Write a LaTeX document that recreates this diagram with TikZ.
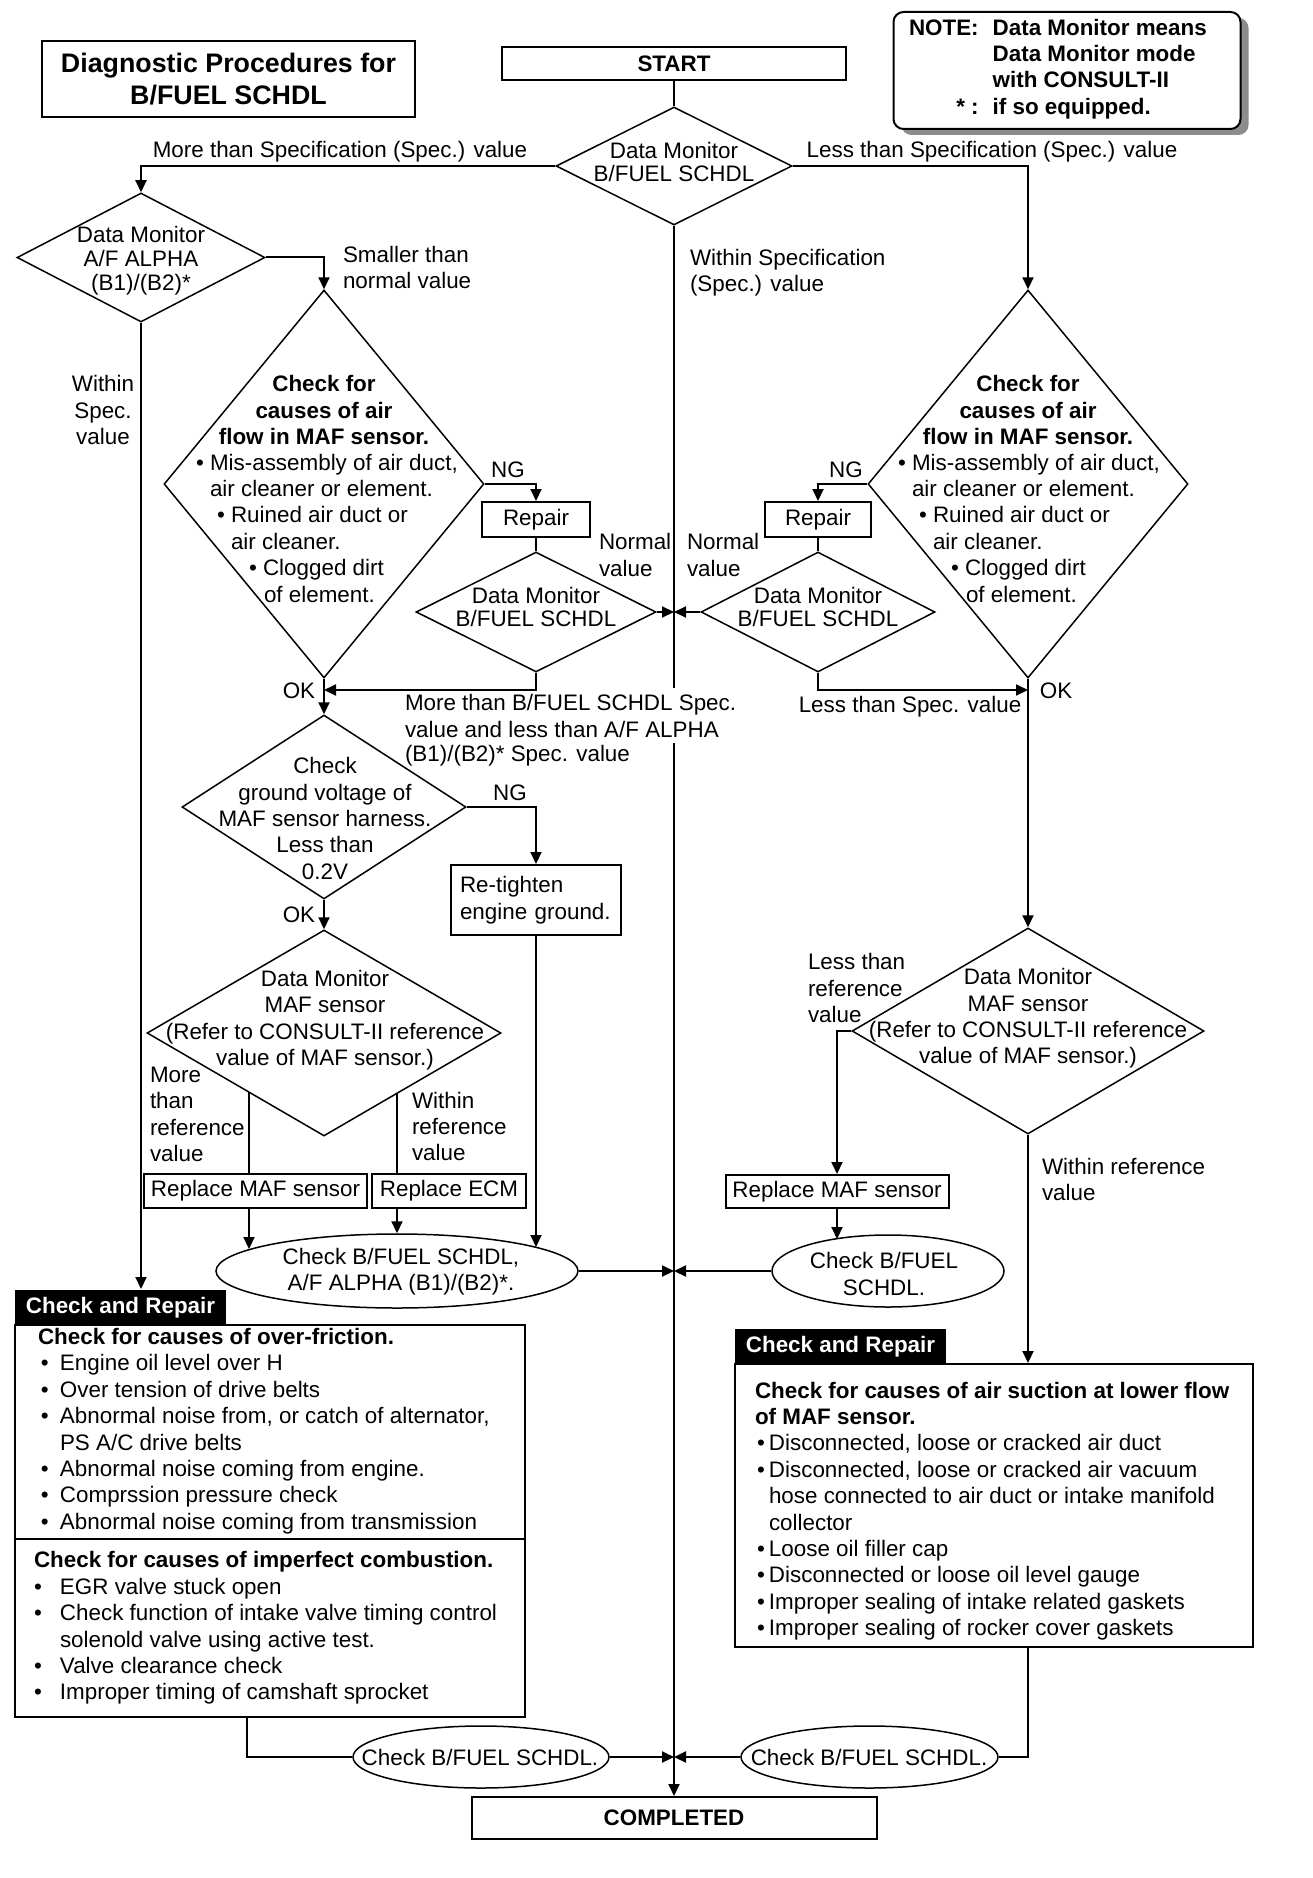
\documentclass[tikz,border=0pt]{standalone}
\usepackage{fontspec}
\setmainfont{Liberation Sans}
\usetikzlibrary{calc}
\usetikzlibrary{arrows.meta}
\usetikzlibrary{shapes.geometric}
\usetikzlibrary{shadows}
\newcommand{\flowfont}{\fontsize{11.2}{13.2}\selectfont}
\newcommand{\tightfont}{\fontsize{11.2}{11.4}\selectfont}
\newcommand{\midfont}{\fontsize{11.2}{12}\selectfont}
\newcommand{\titlefont}{\fontsize{13.4}{16}\selectfont\bfseries}
\newcommand{\blt}[1]{\makebox[#1][l]{\textbullet}}
\tikzset{
	every path/.style={line width=1pt},
	txt/.style={
		inner sep=0pt,
	},
	dia/.style={
		draw,
		diamond,
		inner sep=0pt,
		line width=0.75pt,
	},
	box/.style={
		draw,
		rectangle,
		inner sep=0pt,
	},
	oval/.style={
		draw,
		ellipse,
		inner sep=0pt,
		line width=0.75pt,
	},
	tab/.style={
		fill=black,
		text=white,
		inner sep=0pt,
		font=\flowfont\bfseries,
	},
	flow/.style={
		-{Triangle[length=6pt,width=5.5pt]}
	},
}

\begin{document}
\begin{tikzpicture}[x=0.5pt,y=-0.5pt,font=\flowfont]
		\fill[white] (0,0) rectangle (1312,1878);
		\useasboundingbox (0,0) rectangle (1312,1878);

		% header
		\node[box,line width=1.2pt,minimum width=186.5pt,minimum height=38pt,font=\titlefont,align=center] (title) at (228.5,79) {Diagnostic Procedures for\\B/FUEL SCHDL};
		\node[box,minimum width=172pt,minimum height=16.5pt,font=\flowfont\bfseries] (start) at (674,63.5) {START};
		\node[box,rounded corners=5pt,fill=white,drop shadow={shadow xshift=4pt,shadow yshift=-3pt,fill=black!45,opacity=1},minimum width=173.5pt,minimum height=58.5pt] (note) at (1067,70.5) {};
		\node[txt,anchor=west,font=\flowfont\bfseries] (notetxt) at (908,69.5) {\begin{tabular}{@{}r@{\hspace{7pt}}l@{}}NOTE: & Data Monitor means\\ & Data Monitor mode\\ & with CONSULT-II\\ {*} : & if so equipped.\end{tabular}};

		% first check
		\node[dia,minimum width=118pt,minimum height=59pt] (dmB) at (674,166) {};
		\node[txt,align=center,font=\tightfont] (dmBt) at (674,162) {Data Monitor\\B/FUEL SCHDL};

		% left side
		\node[dia,minimum width=124pt,minimum height=64.5pt] (dmA) at (141,257.5) {};
		\node[txt,align=center,font=\midfont] (dmAt) at (141,261) {Data Monitor\\A/F ALPHA\\(B1)/(B2)*};

		\node[dia,minimum width=160pt,minimum height=194pt] (chkL) at (324,484) {};
		\node[txt,align=center,font=\flowfont\bfseries] (chkLh) at (324,410) {Check for\\causes of air\\flow in MAF sensor.};
		\node[txt,align=left,anchor=west] (chkLb) at (195,528) {\textbullet\ Mis-assembly of air duct,\\\hspace*{7pt}air cleaner or element.\\\hspace*{10.5pt}\textbullet\ Ruined air duct or\\\hspace*{17.5pt}air cleaner.\\\hspace*{26.5pt}\textbullet\ Clogged dirt\\\hspace*{34pt}of element.};

		\node[box,minimum width=54pt,minimum height=17.5pt] (repL) at (536,519.5) {Repair};
		\node[dia,minimum width=120pt,minimum height=60pt] (dmBL) at (536,612) {};
		\node[txt,align=center,font=\tightfont] (dmBLt) at (536,607) {Data Monitor\\B/FUEL SCHDL};

		\node[dia,minimum width=142pt,minimum height=92pt] (grd) at (324,807) {};
		\node[txt,align=center] (grdt) at (325,818.5) {Check\\ground voltage of\\MAF sensor harness.\\Less than\\0.2V};
		\node[box,text width=76pt,inner xsep=4.5pt,inner ysep=0pt,align=left,minimum height=35pt] (ret) at (536,900) {Re-tighten\\engine ground.};

		\node[dia,minimum width=177pt,minimum height=103pt] (mafL) at (324,1033) {};
		\node[txt,align=center] (mafLt) at (325,1020) {Data Monitor\\MAF sensor\\(Refer to CONSULT-II reference\\value of MAF sensor.)};
		\node[box,minimum width=111.5pt,minimum height=17pt] (rmL) at (255.5,1191) {Replace MAF sensor};
		\node[box,minimum width=77pt,minimum height=17pt] (rmE) at (449,1191) {Replace ECM};

		\node[oval,minimum width=181pt,minimum height=37pt] (ckL) at (397,1271) {};
		\node[txt,align=center] (ckLt) at (401,1271.5) {Check B/FUEL SCHDL,\\A/F ALPHA (B1)/(B2)*.};

		\node[tab,minimum width=105.5pt,minimum height=17.5pt] (tabL) at (120.5,1307.5) {Check and Repair};
		\node[box,minimum width=255pt,minimum height=196pt] (crL) at (270,1521) {};
		\node[txt,align=left,anchor=west] (crLa) at (37,1431) {\textbf{Check for causes of over-friction.}\\
			\hspace*{1.5pt}\blt{9.5pt}Engine oil level over H\\
			\hspace*{1.5pt}\blt{9.5pt}Over tension of drive belts\\
			\hspace*{1.5pt}\blt{9.5pt}Abnormal noise from, or catch of alternator,\\
			\hspace*{11pt}PS A/C drive belts\\
			\hspace*{1.5pt}\blt{9.5pt}Abnormal noise coming from engine.\\
			\hspace*{1.5pt}\blt{9.5pt}Comprssion pressure check\\
			\hspace*{1.5pt}\blt{9.5pt}Abnormal noise coming from transmission};
		\node[txt,align=left,anchor=west] (crLb) at (33,1628) {\textbf{Check for causes of imperfect combustion.}\\
			\blt{13pt}EGR valve stuck open\\
			\blt{13pt}Check function of intake valve timing control\\
			\hspace*{13pt}solenold valve using active test.\\
			\blt{13pt}Valve clearance check\\
			\blt{13pt}Improper timing of camshaft sprocket};

		% right side
		\node[dia,minimum width=160pt,minimum height=194pt] (chkR) at (1028,484) {};
		\node[txt,align=center,font=\flowfont\bfseries] (chkRh) at (1028,410) {Check for\\causes of air\\flow in MAF sensor.};
		\node[txt,align=left,anchor=west] (chkRb) at (897,528) {\textbullet\ Mis-assembly of air duct,\\\hspace*{7pt}air cleaner or element.\\\hspace*{10.5pt}\textbullet\ Ruined air duct or\\\hspace*{17.5pt}air cleaner.\\\hspace*{26.5pt}\textbullet\ Clogged dirt\\\hspace*{34pt}of element.};

		\node[box,minimum width=53pt,minimum height=17.5pt] (repR) at (818,519.5) {Repair};
		\node[dia,minimum width=117pt,minimum height=60pt] (dmBR) at (818,612) {};
		\node[txt,align=center,font=\tightfont] (dmBRt) at (818,607) {Data Monitor\\B/FUEL SCHDL};

		\node[dia,minimum width=176pt,minimum height=103pt] (mafR) at (1028,1031) {};
		\node[txt,align=center] (mafRt) at (1028,1018.5) {Data Monitor\\MAF sensor\\(Refer to CONSULT-II reference\\value of MAF sensor.)};
		\node[box,minimum width=111.5pt,minimum height=16.5pt] (rmR) at (837,1191.5) {Replace MAF sensor};
		\node[oval,minimum width=116pt,minimum height=36pt] (ckR) at (888,1271) {};
		\node[txt,align=center] (ckRt) at (884,1274) {Check B/FUEL\\SCHDL.};

		\node[tab,minimum width=105.5pt,minimum height=17.5pt] (tabR) at (840.5,1346.5) {Check and Repair};
		\node[box,minimum width=259pt,minimum height=141.5pt] (crR) at (994,1505.5) {};
		\node[txt,align=left,anchor=west] (crRa) at (754,1511) {\textbf{Check for causes of air suction at lower flow}\\
			\textbf{of MAF sensor.}\\
			\hspace*{1pt}\blt{6pt}Disconnected, loose or cracked air duct\\
			\hspace*{1pt}\blt{6pt}Disconnected, loose or cracked air vacuum\\
			\hspace*{7pt}hose connected to air duct or intake manifold\\
			\hspace*{7pt}collector\\
			\hspace*{1pt}\blt{6pt}Loose oil filler cap\\
			\hspace*{1pt}\blt{6pt}Disconnected or loose oil level gauge\\
			\hspace*{1pt}\blt{6pt}Improper sealing of intake related gaskets\\
			\hspace*{1pt}\blt{6pt}Improper sealing of rocker cover gaskets};

		% bottom
		\node[oval,minimum width=128pt,minimum height=31pt] (ckBL) at (481,1757) {};
		\node[txt] (ckBLt) at (480,1757) {Check B/FUEL SCHDL.};
		\node[oval,minimum width=128.5pt,minimum height=31pt] (ckBR) at (869.5,1757) {};
		\node[txt] (ckBRt) at (869,1757) {Check B/FUEL SCHDL.};
		\node[box,minimum width=202.5pt,minimum height=21pt,font=\flowfont\bfseries] (done) at (674,1818) {COMPLETED};

		\coordinate (jB) at (674,612);
		\coordinate (jC) at (674,1271);
		\coordinate (jD) at (674,1757);
		\coordinate (gapT) at (674,688);
		\coordinate (gapB) at (674,743);
		\coordinate (okL) at (324,690);
		\coordinate (okR) at (1028,690);
		\coordinate (inL) at (249,1249);
		\coordinate (inG) at (536,1247);
		\coordinate (inRR) at (837,1239);

		% main line, broken by the label
		\draw (start.south) -- (dmB.north);
		\draw (dmB.south) -- (gapT);
		\draw[flow] (gapB) -- (done.north);

		% connectors left
		\draw[flow] (dmB.west) -| (dmA.north);
		\draw[flow] (dmA.east) -| (chkL.north);
		\draw[flow] (dmA.south) -- (dmA.south |- tabL.north);
		\draw[flow] (chkL.east) -| (repL.north);
		\draw (repL.south) -- (dmBL.north);
		\draw[flow] (dmBL.east) -- (jB);
		\draw[flow] (dmBL.south) |- (okL);
		\draw[flow] (chkL.south) -- (grd.north);
		\draw[flow] (grd.east) -| (ret.north);
		\draw[flow] (grd.south) -- (mafL.north);
		\draw (inL |- mafL.218.4) -- (inL |- rmL.north);
		\draw[flow] (inL |- rmL.south) -- (inL);
		\draw (ckL.north |- mafL.320.4) -- (ckL.north |- rmE.north);
		\draw[flow] (ckL.north |- rmE.south) -- (ckL.north);
		\draw[flow] (ret.south) -- (inG);
		\draw[flow] (ckL.east) -- (jC);
		\draw ($(crL.north west)!0.546!(crL.south west)$) -- ($(crL.north east)!0.546!(crL.south east)$);
		\draw ($(crL.south west)!0.456!(crL.south east)$) |- (ckBL.west);
		\draw[flow] (ckBL.east) -- (jD);

		% connectors right
		\draw[flow] (dmB.east) -| (chkR.north);
		\draw[flow] (chkR.west) -| (repR.north);
		\draw (repR.south) -- (dmBR.north);
		\draw[flow] (dmBR.west) -- (jB);
		\draw[flow] (dmBR.south) |- (okR);
		\draw[flow] (chkR.south) -- (mafR.north);
		\draw[flow] (mafR.west) -| (rmR.north);
		\draw[flow] (rmR.south) -- (inRR);
		\draw[flow] (ckR.west) -- (jC);
		\draw[flow] (mafR.south) -- (mafR.south |- crR.north);
		\draw (mafR.south |- crR.south) |- (ckBR.east);
		\draw[flow] (ckBR.west) -- (jD);

		% labels
		\node[txt] (lblMore) at (340,152) {More than Specification (Spec.) value};
		\node[txt] (lblLess) at (992,152) {Less than Specification (Spec.) value};
		\node[txt,align=left,anchor=west] (lblWithin) at (689,272.5) {Within Specification\\(Spec.) value};
		\node[txt,align=left,anchor=west] (lblSmall) at (342,267.5) {Smaller than\\normal value};
		\node[txt,align=center] (lblWithinSpec) at (103,410) {Within\\Spec.\\value};
		\node[txt] (ngL) at (508,470) {NG};
		\node[txt] (ngR) at (846,470) {NG};
		\node[txt,align=left,anchor=west] (nvL) at (598,555) {Normal\\value};
		\node[txt,align=left,anchor=west] (nvR) at (686,555) {Normal\\value};
		\node[txt] (okLt) at (299,691) {OK};
		\node[txt] (okRt) at (1056,691) {OK};
		\node[txt,align=left,anchor=west,fill=white] (lblBetA) at (404,716) {More than B/FUEL SCHDL Spec.\\value and less than A/F ALPHA};
		\node[txt,anchor=west] (lblBetB) at (404,756) {(B1)/(B2)* Spec. value};
		\node[txt] (lblLessSpec) at (910,707) {Less than Spec. value};
		\node[txt] (ngG) at (510,793) {NG};
		\node[txt] (okGt) at (299,915) {OK};
		\node[txt,align=left,anchor=west] (lblLessRef) at (807,988) {Less than\\reference\\value};
		\node[txt,align=left,anchor=west] (lblMoreRef) at (149,1114.5) {More\\than\\reference\\value};
		\node[txt,align=left,anchor=west] (lblWithinRef) at (411,1126.5) {Within\\reference\\value};
		\node[txt,align=left,anchor=west] (lblWithinRef2) at (1041,1179.5) {Within reference\\value};

	\end{tikzpicture}
\end{document}
